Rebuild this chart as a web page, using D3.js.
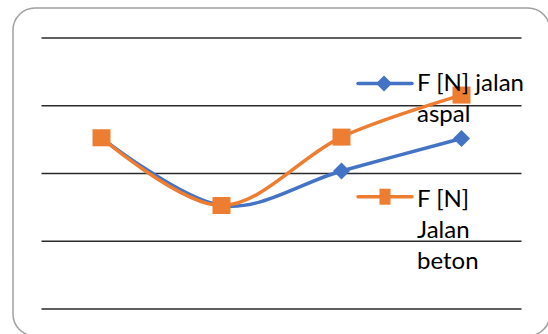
<!DOCTYPE html>
<html>
<head>
<meta charset="utf-8">
<script src="https://cdn.jsdelivr.net/npm/d3@7/dist/d3.min.js"></script>
<style>
  html, body { margin: 0; padding: 0; background: #fff; }
  svg { display: block; }
</style>
</head>
<body>
<script>
const categories = ["1", "2", "3", "4"];
const seriesNames = ["F [N] jalan aspal", "F [N] Jalan beton"];
const aspalValues = [25.2, 15.2, 20.3, 25.1];
const betonValues = [25.2, 15.2, 25.3, 31.5];
const tickValues = [0, 10, 20, 30, 40];

const W = 548, H = 334;
const svg = d3.select("body").append("svg").attr("width", W).attr("height", H);

// chart border
svg.append("rect")
  .attr("x", 13).attr("y", 8).attr("width", 537).attr("height", 328)
  .attr("rx", 22).attr("ry", 22)
  .attr("fill", "#fff").attr("stroke", "#a0a0a0").attr("stroke-width", 1.5);

const x = d3.scaleBand().domain(categories).range([41.5, 521.5]);
const y = d3.scaleLinear().domain([0, 40]).range([308.5, 37.5]);
const cx = c => x(c) + x.bandwidth() / 2;

// gridlines via axis
const grid = svg.append("g")
  .call(d3.axisLeft(y).tickValues(tickValues).tickSize(-(x.range()[1] - x.range()[0])).tickFormat(""))
  .attr("transform", `translate(${x.range()[0]},0)`);
grid.select(".domain").remove();
grid.selectAll(".tick line").attr("stroke", "#2a2a2a").attr("stroke-width", 1.3);

const series = [
  { name: seriesNames[0], values: aspalValues, color: "#4472C4", marker: "diamond" },
  { name: seriesNames[1], values: betonValues, color: "#ED7D31", marker: "square" }
];

const line = d3.line()
  .x((d, i) => cx(categories[i]))
  .y(d => y(d))
  .curve(d3.curveCatmullRom.alpha(0));

function drawMarker(g, type, px, py, color, w, h) {
  if (type === "square") {
    g.append("rect").attr("x", px - w / 2).attr("y", py - h / 2)
      .attr("width", w).attr("height", h).attr("fill", color);
  } else {
    g.append("path")
      .attr("d", `M${px},${py - h / 2}L${px + w / 2},${py}L${px},${py + h / 2}L${px - w / 2},${py}Z`)
      .attr("fill", color);
  }
}

series.forEach(s => {
  const g = svg.append("g");
  g.append("path").datum(s.values)
    .attr("d", line).attr("fill", "none")
    .attr("stroke", s.color).attr("stroke-width", 3.5)
    .attr("stroke-linejoin", "round").attr("stroke-linecap", "round");
  s.values.forEach((v, i) => {
    if (s.marker === "square") drawMarker(g, "square", cx(categories[i]), y(v), s.color, 18, 17);
    else drawMarker(g, "diamond", cx(categories[i]), y(v), s.color, 17, 17);
  });
});

// legend
const legendItems = [
  { s: series[0], lineY: 83.5, lines: ["F [N] jalan", "aspal"], firstBase: 91 },
  { s: series[1], lineY: 196.7, lines: ["F [N]", "Jalan", "beton"], firstBase: 206.5 }
];
legendItems.forEach(it => {
  const g = svg.append("g");
  g.append("line").attr("x1", 358).attr("x2", 412).attr("y1", it.lineY).attr("y2", it.lineY)
    .attr("stroke", it.s.color).attr("stroke-width", 3.5).attr("stroke-linecap", "round");
  if (it.s.marker === "square") drawMarker(g, "square", 385, it.lineY, it.s.color, 11, 16);
  else drawMarker(g, "diamond", 384, it.lineY, it.s.color, 16, 16);
  const t = g.append("text").attr("x", 417).attr("y", it.firstBase)
    .attr("font-family", "Lato, 'Open Sans', sans-serif").attr("font-size", 24).attr("fill", "#000");
  it.lines.forEach((l, i) => {
    t.append("tspan").attr("x", 417).attr("y", it.firstBase + i * 31).text(l);
  });
});
</script>
</body>
</html>
